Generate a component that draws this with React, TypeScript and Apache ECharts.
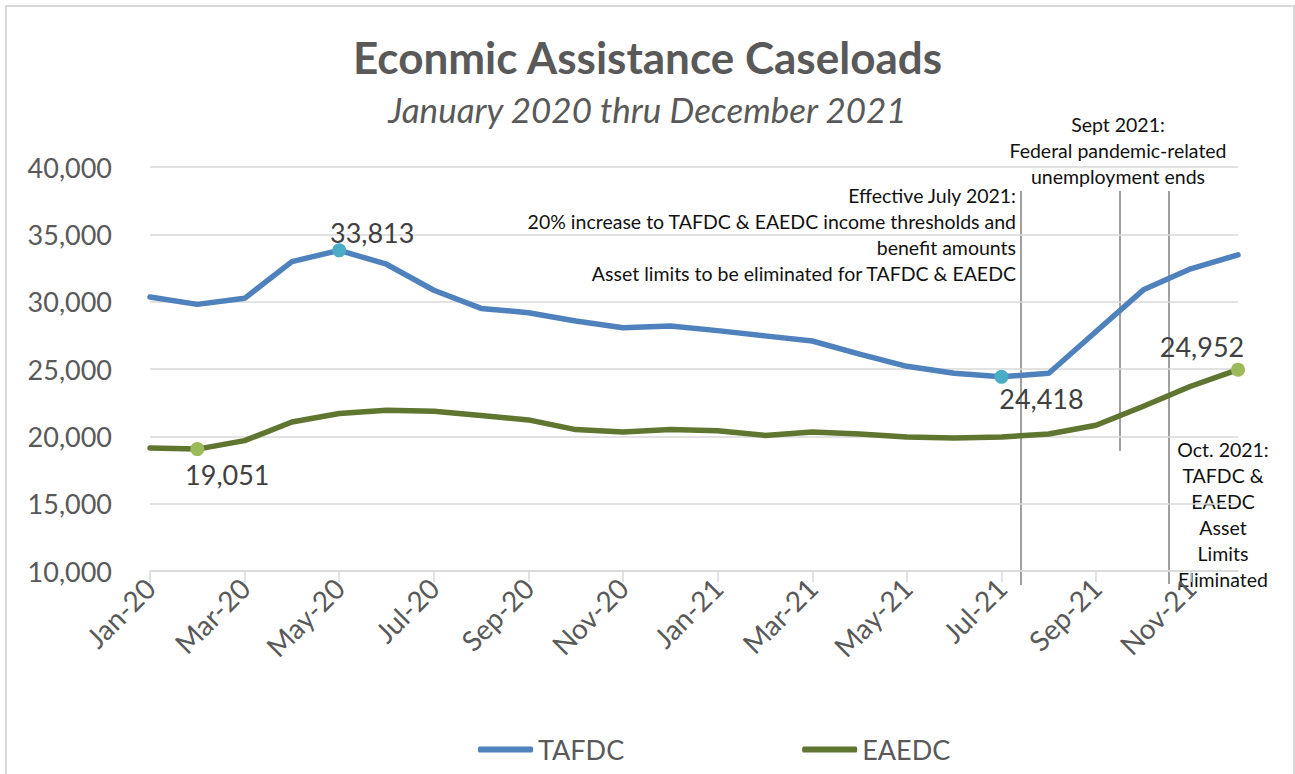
import React, { useEffect, useRef } from "react";
import * as echarts from "echarts";

const months = [
  "Jan-20", "Feb-20", "Mar-20", "Apr-20", "May-20", "Jun-20", "Jul-20", "Aug-20", "Sep-20", "Oct-20", "Nov-20", "Dec-20",
  "Jan-21", "Feb-21", "Mar-21", "Apr-21", "May-21", "Jun-21", "Jul-21", "Aug-21", "Sep-21", "Oct-21", "Nov-21", "Dec-21",
];

const tafdc = [
  30350, 29800, 30250, 32970, 33813, 32780, 30850, 29500, 29180, 28570, 28070, 28200,
  27850, 27460, 27080, 26100, 25200, 24680, 24418, 24680, 27780, 30880, 32440, 33480,
];

const eaedc = [
  19130, 19051, 19680, 21060, 21690, 21930, 21860, 21540, 21220, 20500, 20320, 20500,
  20420, 20070, 20320, 20170, 19950, 19880, 19950, 20170, 20820, 22230, 23720, 24952,
];

const yTicks = { min: 10000, max: 40000, interval: 5000 };

const tafdcMarked: Record<number, { pos: string; offset: number[] }> = {
  4: { pos: "top", offset: [33, 8] },
  18: { pos: "bottom", offset: [40, -4] },
};
const eaedcMarked: Record<number, { pos: string; offset: number[] }> = {
  1: { pos: "bottom", offset: [30, 0] },
  23: { pos: "top", offset: [-36, 2] },
};

const FONT = "Lato, 'Open Sans', sans-serif";

function build(values: number[], marked: Record<number, { pos: string; offset: number[] }>, markColor: string) {
  return values.map((v, i) => {
    const m = marked[i];
    if (!m) return { value: v, symbol: "none" };
    return {
      value: v,
      symbol: "circle",
      symbolSize: 14,
      itemStyle: { color: markColor },
      label: {
        show: true,
        position: m.pos,
        offset: m.offset,
        formatter: (p: any) => Number(p.value).toLocaleString("en-US"),
        fontSize: 27,
        fontFamily: FONT,
        color: "#404040",
      },
    };
  });
}

export default function App() {
  const ref = useRef<HTMLDivElement>(null);
  useEffect(() => {
    if (!ref.current) return;
    const chart = echarts.init(ref.current, undefined, { renderer: "svg" });
    const annoStyle = { fontSize: 19.5, fontFamily: FONT, fill: "#111" };
    chart.setOption({
      animation: false,
      backgroundColor: "#fff",
      title: [
        {
          text: "Econmic Assistance Caseloads",
          left: "center",
          top: 30,
          textStyle: { fontSize: 44, fontWeight: "bold", color: "#595959", fontFamily: FONT },
        },
        {
          text: "January 2020 thru December 2021",
          left: "center",
          top: 86,
          textStyle: { fontSize: 35, fontStyle: "italic", fontWeight: "normal", color: "#595959", fontFamily: FONT },
        },
      ],
      grid: { left: 150, right: 57, top: 167, bottom: 203 },
      xAxis: {
        type: "category",
        data: months,
        boundaryGap: false,
        axisLine: { lineStyle: { color: "#d9d9d9", width: 1.5 } },
        axisTick: { show: true, interval: 1, length: 11, lineStyle: { color: "#d9d9d9", width: 1.5 } },
        axisLabel: {
          interval: 1,
          rotate: 45,
          margin: 12,
          fontSize: 28,
          fontFamily: FONT,
          color: "#595959",
        },
        splitLine: { show: false },
      },
      yAxis: {
        type: "value",
        min: yTicks.min,
        max: yTicks.max,
        interval: yTicks.interval,
        axisLine: { show: false },
        axisTick: { show: false },
        axisLabel: {
          margin: 38,
          fontSize: 27,
          fontFamily: FONT,
          color: "#595959",
          formatter: (v: number) => v.toLocaleString("en-US"),
        },
        splitLine: { lineStyle: { color: "#d9d9d9", width: 1.5 } },
      },
      legend: {
        top: 736,
        left: 478,
        padding: 0,
        icon: "roundRect",
        itemWidth: 55,
        itemHeight: 6,
        itemGap: 178,
        textStyle: { fontSize: 27, fontFamily: FONT, color: "#595959" },
        data: ["TAFDC", "EAEDC"],
      },
      series: [
        {
          name: "TAFDC",
          type: "line",
          data: build(tafdc, tafdcMarked, "#4bacc6"),
          symbol: "none",
          showSymbol: true,
          lineStyle: { color: "#4f81bd", width: 5.5, cap: "round", join: "round" },
          itemStyle: { color: "#4f81bd" },
          z: 3,
        },
        {
          name: "EAEDC",
          type: "line",
          data: build(eaedc, eaedcMarked, "#9bbb59"),
          symbol: "none",
          showSymbol: true,
          lineStyle: { color: "#5f7530", width: 5.5, cap: "round", join: "round" },
          itemStyle: { color: "#5f7530" },
          z: 3,
        },
      ],
      graphic: [
        {
          type: "rect",
          shape: { x: 6, y: 6, width: 1288, height: 780 },
          style: { fill: "none", stroke: "#d9d9d9", lineWidth: 2 },
          silent: true,
        },
        { type: "line", shape: { x1: 1021, y1: 191, x2: 1021, y2: 585 }, style: { stroke: "#808080", lineWidth: 1.5 } },
        { type: "line", shape: { x1: 1120, y1: 191, x2: 1120, y2: 451 }, style: { stroke: "#808080", lineWidth: 1.5 } },
        { type: "line", shape: { x1: 1169, y1: 191, x2: 1169, y2: 584 }, style: { stroke: "#808080", lineWidth: 1.5 } },
        { type: "text", x: 1016, y: 195, style: { ...annoStyle, text: "Effective July 2021:", align: "right", verticalAlign: "middle" } },
        { type: "text", x: 1016, y: 221, style: { ...annoStyle, text: "20% increase to TAFDC & EAEDC income thresholds and", align: "right", verticalAlign: "middle" } },
        { type: "text", x: 1016, y: 247, style: { ...annoStyle, text: "benefit amounts", align: "right", verticalAlign: "middle" } },
        { type: "text", x: 1016, y: 273, style: { ...annoStyle, text: "Asset limits to be eliminated for TAFDC & EAEDC", align: "right", verticalAlign: "middle" } },
        { type: "text", x: 1118, y: 124, style: { ...annoStyle, text: "Sept 2021:", align: "center", verticalAlign: "middle" } },
        { type: "text", x: 1118, y: 150, style: { ...annoStyle, text: "Federal pandemic-related", align: "center", verticalAlign: "middle" } },
        { type: "text", x: 1118, y: 176, style: { ...annoStyle, text: "unemployment ends", align: "center", verticalAlign: "middle" } },
        { type: "text", x: 1223, y: 449, style: { ...annoStyle, text: "Oct. 2021:", align: "center", verticalAlign: "middle" } },
        { type: "text", x: 1223, y: 475, style: { ...annoStyle, text: "TAFDC &", align: "center", verticalAlign: "middle" } },
        { type: "text", x: 1223, y: 501, style: { ...annoStyle, text: "EAEDC", align: "center", verticalAlign: "middle" } },
        { type: "text", x: 1223, y: 527, style: { ...annoStyle, text: "Asset", align: "center", verticalAlign: "middle" } },
        { type: "text", x: 1223, y: 553, style: { ...annoStyle, text: "Limits", align: "center", verticalAlign: "middle" } },
        { type: "text", x: 1223, y: 579, style: { ...annoStyle, text: "Eliminated", align: "center", verticalAlign: "middle" } },
      ],
    });
    return () => chart.dispose();
  }, []);
  return (
    <div
      ref={ref}
      style={{ position: "fixed", left: 0, top: 0, width: 1295, height: 774 }}
    />
  );
}
